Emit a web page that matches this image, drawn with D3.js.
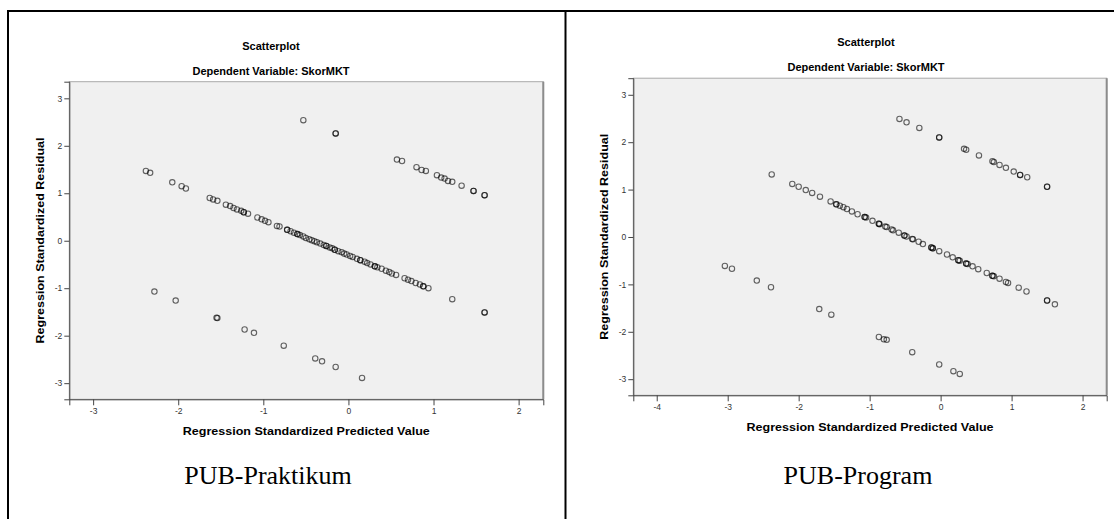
<!DOCTYPE html>
<html>
<head>
<meta charset="utf-8">
<script src="https://cdn.jsdelivr.net/npm/d3@7"></script>
<style>
  body { margin: 0; background: #fff; }
  svg { display: block; font-family: "Liberation Sans", Arial, sans-serif; }
  .tick text { fill: #333; font-size: 8.5px; }
</style>
</head>
<body>
<div id="chart"></div>
<script>

// [predicted, residual] pairs
var praktikumPoints = [
  [-2.38,1.47],[-2.33,1.43],[-2.07,1.23],[-1.96,1.15],[-1.91,1.10],
  [-1.63,0.90],[-1.59,0.87],[-1.54,0.84],[-1.44,0.76],[-1.39,0.73],[-1.35,0.69],[-1.31,0.66],
  [-1.26,0.63],[-1.23,0.60],[-1.23,0.60],[-1.18,0.57],[-1.07,0.49],[-1.02,0.45],[-0.98,0.42],[-0.94,0.39],
  [-0.84,0.31],[-0.81,0.30],[-0.72,0.23],[-0.72,0.23],[-0.68,0.20],[-0.64,0.17],[-0.60,0.14],[-0.60,0.14],
  [-0.57,0.12],[-0.53,0.09],[-0.50,0.06],[-0.46,0.03],[-0.43,0.01],[-0.40,-0.01],[-0.37,-0.03],
  [-0.33,-0.06],[-0.29,-0.09],[-0.26,-0.11],[-0.26,-0.11],[-0.22,-0.14],[-0.19,-0.16],[-0.16,-0.19],[-0.16,-0.19],
  [-0.12,-0.22],[-0.08,-0.24],[-0.05,-0.27],[-0.02,-0.29],[0.02,-0.32],[0.05,-0.34],[0.10,-0.38],
  [0.14,-0.41],[0.14,-0.41],[0.19,-0.44],[0.22,-0.47],[0.26,-0.50],[0.31,-0.54],[0.31,-0.54],[0.34,-0.56],
  [0.39,-0.59],[0.44,-0.63],[0.48,-0.66],[0.51,-0.69],[0.56,-0.72],[0.66,-0.79],[0.70,-0.82],[0.74,-0.85],
  [0.79,-0.89],[0.84,-0.92],[0.88,-0.96],[0.88,-0.96],[0.94,-1.00],
  [1.22,-1.23],[1.60,-1.51],[1.60,-1.51],
  [-0.53,2.54],[-0.15,2.26],[-0.15,2.26],[0.57,1.71],[0.63,1.68],[0.80,1.55],[0.86,1.49],[0.91,1.47],
  [1.04,1.38],[1.09,1.33],[1.13,1.31],[1.17,1.26],[1.22,1.24],[1.33,1.16],[1.47,1.05],[1.47,1.05],
  [1.60,0.96],[1.60,0.96],
  [-2.28,-1.07],[-2.03,-1.26],[-1.54,-1.63],[-1.55,-1.62],[-1.22,-1.87],[-1.11,-1.94],[-0.76,-2.21],
  [-0.39,-2.48],[-0.31,-2.54],[-0.15,-2.66],[0.16,-2.89]
];

var programPoints = [
  [-2.38,1.32],[-2.09,1.12],[-2.00,1.06],[-1.90,0.99],[-1.81,0.93],[-1.70,0.85],
  [-1.55,0.75],[-1.47,0.69],[-1.47,0.69],[-1.42,0.66],[-1.37,0.63],[-1.32,0.59],[-1.25,0.54],[-1.17,0.48],
  [-1.07,0.42],[-1.07,0.42],[-1.05,0.41],[-0.96,0.34],[-0.87,0.28],[-0.87,0.28],[-0.86,0.27],[-0.78,0.22],
  [-0.76,0.21],[-0.69,0.16],[-0.67,0.14],[-0.59,0.09],[-0.51,0.03],[-0.51,0.03],[-0.48,0.01],[-0.40,-0.04],
  [-0.39,-0.05],[-0.31,-0.10],[-0.25,-0.15],[-0.13,-0.22],[-0.13,-0.22],[-0.11,-0.24],[-0.11,-0.24],[-0.02,-0.30],
  [0.09,-0.37],[0.17,-0.43],[0.25,-0.49],[0.25,-0.49],[0.27,-0.50],[0.36,-0.56],[0.36,-0.56],[0.38,-0.57],
  [0.45,-0.62],[0.53,-0.68],[0.65,-0.76],[0.73,-0.82],[0.73,-0.82],[0.75,-0.83],[0.83,-0.88],[0.92,-0.95],
  [0.95,-0.97],[1.10,-1.07],[1.21,-1.15],[1.50,-1.34],[1.50,-1.34],[1.61,-1.42],
  [-0.58,2.49],[-0.48,2.42],[-0.30,2.30],[-0.02,2.10],[-0.02,2.10],[0.33,1.86],[0.36,1.84],[0.54,1.72],
  [0.73,1.60],[0.75,1.58],[0.83,1.52],[0.92,1.46],[1.03,1.38],[1.12,1.31],[1.12,1.31],[1.22,1.26],
  [1.50,1.06],[1.50,1.06],
  [-3.04,-0.61],[-2.94,-0.67],[-2.59,-0.92],[-2.39,-1.06],[-1.71,-1.52],[-1.54,-1.64],[-0.87,-2.11],
  [-0.80,-2.16],[-0.76,-2.17],[-0.40,-2.43],[-0.02,-2.69],[0.18,-2.83],[0.27,-2.89]
];

var praktikumXTicks = [-3, -2, -1, 0, 1, 2],
    programXTicks   = [-4, -3, -2, -1, 0, 1, 2],
    residualTicks   = [-3, -2, -1, 0, 1, 2, 3];

var chartTitle = "Scatterplot",
    chartSubtitle = "Dependent Variable: SkorMKT",
    xLabel = "Regression Standardized Predicted Value",
    yLabel = "Regression Standardized Residual";

var width = 1114, height = 519;

var svg = d3.select("#chart").append("svg")
            .attr("width", width).attr("height", height);

svg.append("rect").attr("width", width).attr("height", height).attr("fill", "#fff");

// table borders round the two panels
svg.append("line").attr("x1", 7).attr("x2", width).attr("y1", 11).attr("y2", 11)
   .attr("stroke", "#000").attr("stroke-width", 2);
svg.append("line").attr("x1", 8).attr("x2", 8).attr("y1", 10).attr("y2", height)
   .attr("stroke", "#000").attr("stroke-width", 2);
svg.append("line").attr("x1", 565.5).attr("x2", 565.5).attr("y1", 10).attr("y2", height)
   .attr("stroke", "#000").attr("stroke-width", 2);

drawPanel({
  points: praktikumPoints, xTicks: praktikumXTicks,
  xDomain: [-3.28, 2.29], yDomain: [-3.34, 3.35],
  left: 69.3, right: 543.3, top: 81.7, bottom: 399.3,
  titleX: 271, yLabelX: 40, caption: "PUB-Praktikum", captionX: 268
});

drawPanel({
  points: programPoints, xTicks: programXTicks,
  xDomain: [-4.33, 2.34], yDomain: [-3.34, 3.35],
  left: 633.3, right: 1106.7, top: 78.2, bottom: 395.3,
  titleX: 866, yLabelX: 604, caption: "PUB-Program", captionX: 858
});

function drawPanel(p) {

  var x = d3.scaleLinear().domain(p.xDomain).range([p.left, p.right]),
      y = d3.scaleLinear().domain(p.yDomain).range([p.bottom, p.top]);

  var g = svg.append("g");

  // plot background and frame
  g.append("rect")
   .attr("x", p.left).attr("y", p.top)
   .attr("width", p.right - p.left).attr("height", p.bottom - p.top)
   .attr("fill", "#f0f0f0").attr("stroke", "#a8a8a8").attr("stroke-width", 1);
  g.append("line")
   .attr("x1", p.right).attr("x2", p.right).attr("y1", p.top).attr("y2", p.bottom)
   .attr("stroke", "#8c8c8c").attr("stroke-width", 2);

  var xAxis = g.append("g").attr("transform", "translate(0," + p.bottom + ")")
               .call(d3.axisBottom(x).tickValues(p.xTicks).tickSize(6).tickPadding(3).tickFormat(d3.format("d")));
  var yAxis = g.append("g").attr("transform", "translate(" + p.left + ",0)")
               .call(d3.axisLeft(y).tickValues(residualTicks).tickSize(5).tickPadding(2).tickFormat(d3.format("d")));

  [xAxis, yAxis].forEach(function(a) {
    a.attr("font-family", null).attr("font-size", null);
    a.select(".domain").attr("stroke", "#444");
    a.selectAll(".tick line").attr("stroke", "#444");
    a.selectAll(".tick text").text(function(d) { return d < 0 ? "-" + Math.abs(d) : d; });
  });

  g.append("g").selectAll("circle")
   .data(p.points)
   .enter().append("circle")
   .attr("cx", function(d) { return x(d[0]); })
   .attr("cy", function(d) { return y(d[1]); })
   .attr("r", 2.7)
   .attr("fill", "none")
   .attr("stroke", "#000")
   .attr("stroke-opacity", 0.6)
   .attr("stroke-width", 1.1);

  var midX = (p.left + p.right) / 2,
      midY = (p.top + p.bottom) / 2;

  g.append("text").attr("x", p.titleX).attr("y", p.top - 32)
   .attr("text-anchor", "middle").attr("font-size", 11).attr("font-weight", "bold")
   .text(chartTitle);
  g.append("text").attr("x", p.titleX).attr("y", p.top - 7)
   .attr("text-anchor", "middle").attr("font-size", 11).attr("font-weight", "bold")
   .text(chartSubtitle);

  g.append("text").attr("x", midX).attr("y", p.bottom + 36)
   .attr("text-anchor", "middle").attr("font-size", 11).attr("font-weight", "bold")
   .attr("textLength", 247).attr("lengthAdjust", "spacingAndGlyphs")
   .text(xLabel);

  g.append("text")
   .attr("transform", "translate(" + (p.yLabelX + 4) + "," + midY + ") rotate(-90)")
   .attr("text-anchor", "middle").attr("font-size", 11).attr("font-weight", "bold")
   .attr("textLength", 206).attr("lengthAdjust", "spacingAndGlyphs")
   .text(yLabel);

  g.append("text").attr("x", p.captionX).attr("y", 484)
   .attr("text-anchor", "middle")
   .attr("font-family", "'Liberation Serif', 'Times New Roman', serif")
   .attr("font-size", 26)
   .text(p.caption);
}

</script>
</body>
</html>
